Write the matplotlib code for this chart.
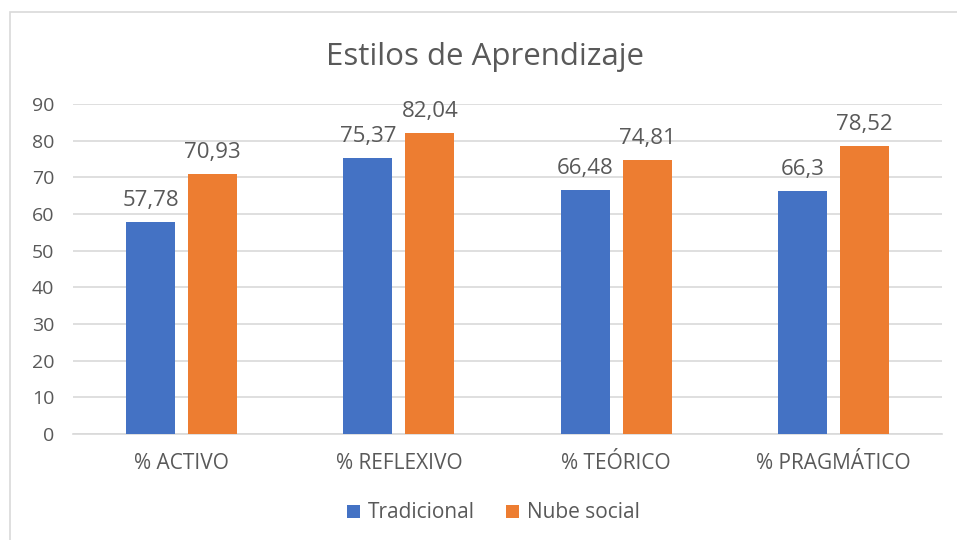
import matplotlib.pyplot as plt
import numpy as np
from matplotlib.patches import Rectangle

categories = ['% ACTIVO', '% REFLEXIVO', '% TEÓRICO', '% PRAGMÁTICO']
tradicional = [57.78, 75.37, 66.48, 66.3]
nube_social = [70.93, 82.04, 74.81, 78.52]
series_names = ['Tradicional', 'Nube social']

blue = '#4472C4'
orange = '#ED7D31'
txt = '#595959'
grid = '#D9D9D9'

plt.rcParams['font.family'] = ['Open Sans', 'DejaVu Sans']

fig = plt.figure(figsize=(9.57, 5.4), dpi=100)
fig.patches.append(Rectangle((10 / 957, -0.1), 1.1, (540 - 12) / 540 + 0.1,
                             transform=fig.transFigure, fill=False,
                             edgecolor='#D9D9D9', linewidth=1.2))

ax = fig.add_axes([73 / 957, 106 / 540, (942 - 73) / 957, (434 - 104) / 540])

x = np.arange(len(categories))
w = 0.225
gap = 0.06
b1 = ax.bar(x - (w + gap) / 2, tradicional, w, color=blue, label=series_names[0], zorder=3)
b2 = ax.bar(x + (w + gap) / 2, nube_social, w, color=orange, label=series_names[1], zorder=3)

for bars, vals in ((b1, tradicional), (b2, nube_social)):
    for r, v in zip(bars, vals):
        lbl = ('%g' % v).replace('.', ',')
        ax.text(r.get_x() + r.get_width() / 2, v + 3.0, lbl, ha='center', va='bottom',
                fontsize=16, color=txt)

ax.set_ylim(0, 90)
ax.set_yticks(range(0, 91, 10))
ax.set_xlim(-0.5, len(categories) - 0.5)
ax.set_xticks(x)
ax.set_xticklabels(categories)
ax.yaxis.grid(True, color=grid, linewidth=1.2, zorder=0)
ax.tick_params(axis='both', length=0, colors=txt)
ax.tick_params(axis='y', pad=13.5, labelsize=14)
ax.tick_params(axis='x', pad=14, labelsize=15)
for s in ['top', 'right', 'left']:
    ax.spines[s].set_visible(False)
ax.spines['bottom'].set_color(grid)
ax.spines['bottom'].set_linewidth(1.2)

fig.text(485 / 957, (540 - 57) / 540, 'Estilos de Aprendizaje', ha='center', va='center',
         fontsize=22.5, color=txt)

fig.legend(handles=[b1, b2], loc='center', bbox_to_anchor=(0.516, (540 - 513) / 540),
           ncol=2, frameon=False, fontsize=15, labelcolor=txt, handlelength=0.6,
           handleheight=0.6, handletextpad=0.4, columnspacing=1.5)

fig.savefig('out.png', dpi=100)
